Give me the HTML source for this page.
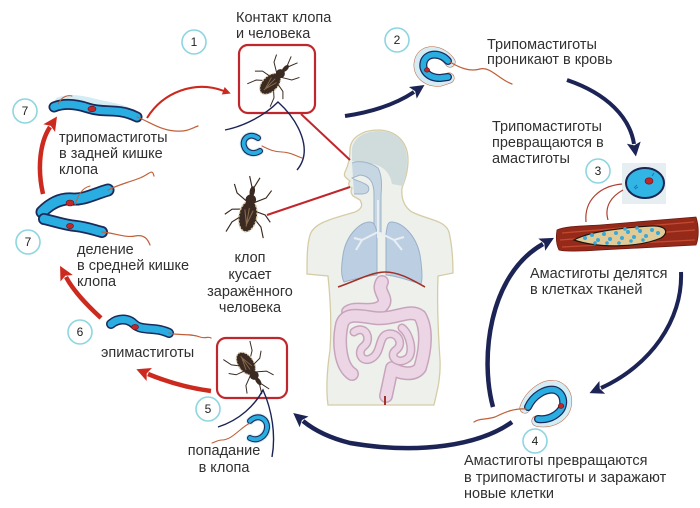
<!DOCTYPE html>
<html><head><meta charset="utf-8">
<style>
html,body{margin:0;padding:0;background:#fff;}
svg{display:block;}
text{font-family:"Liberation Sans","Noto Sans CJK SC",sans-serif;font-size:14.5px;fill:#303030;}
.n{font-size:12px;fill:#222;text-anchor:middle;}
</style></head>
<body>
<svg width="700" height="508" viewBox="0 0 700 508" xmlns="http://www.w3.org/2000/svg">
<defs>
<marker id="rh" viewBox="0 0 10 10" refX="1" refY="5" markerWidth="15" markerHeight="14" markerUnits="userSpaceOnUse" orient="auto"><path d="M0,0 L10,5 L0,10 L2,5 Z" fill="#cc2a1e"/></marker>
<marker id="rs" viewBox="0 0 10 10" refX="1" refY="5" markerWidth="10" markerHeight="8" markerUnits="userSpaceOnUse" orient="auto"><path d="M0,0 L10,5 L0,10 Z" fill="#cc2a1e"/></marker>
<marker id="nh" viewBox="0 0 10 10" refX="1" refY="5" markerWidth="15" markerHeight="14" markerUnits="userSpaceOnUse" orient="auto"><path d="M0,0 L10,5 L0,10 L2,5 Z" fill="#1c2456"/></marker>
</defs>

<!-- HUMAN BODY -->
<path d="M378,130 C396,130 408,142 408,160 C408,172 405,180 402,188 C401,198 404,207 412,212 C428,220 445,220 449,232 C452,245 453,260 453,273 L438,276 C437,300 438,330 440,360 C441,380 436,395 434,405 L328,405 C326,390 327,370 330,350 C332,320 330,295 328,276 L307,274 C307,258 307,245 310,235 C314,222 335,218 355,212 C362,209 363,205 360,200 L353,196 C350,192 351,190 352,188 C348,186 348,183 350,181 C346,178 343,176 345,172 C347,168 350,160 350,150 C350,138 362,130 378,130 Z" fill="#eef0ec" stroke="#d6cca4" stroke-width="1.3"/>
<path d="M352,148 C355,136 366,131 380,131 C396,131 407,142 407,160 C407,172 405,180 403,186 L392,184 C390,172 383,165 368,163 L352,161 Z" fill="#d0dbdb"/>
<!-- airways -->
<path d="M352,163 C358,160 370,162 378,168 C382,175 382,185 381,195 L381,232 L374,232 L374,195 C374,182 370,176 360,175 L352,178 C356,181 364,182 368,186 C370,190 368,194 362,194 L354,194" fill="#c6d6e2" stroke="#9fb4c8" stroke-width="1"/>
<!-- lungs -->
<path d="M370,222 C360,222 346,235 343,255 C341,268 341,276 344,282 C355,279 365,276 377,275 L377,234 C376,226 374,222 370,222 Z" fill="#bccfe2" stroke="#9ab0c8" stroke-width="1"/>
<path d="M391,222 C402,222 416,235 420,255 C422,268 423,278 421,284 C410,281 398,276 386,275 L386,234 C387,226 388,222 391,222 Z" fill="#bccfe2" stroke="#9ab0c8" stroke-width="1"/>
<path d="M378,200 L378,238 M378,232 L362,240 L356,250 M362,240 L354,238 M378,232 L394,240 L402,250 M394,240 L404,237" fill="none" stroke="#e8eef2" stroke-width="2"/>
<!-- digestive -->
<g fill="none" stroke-linecap="round" stroke-linejoin="round">
<path d="M382,282 C376,292 390,298 382,306 C372,314 356,306 348,312" stroke="#c8a4bc" stroke-width="14"/>
<path d="M382,282 C376,292 390,298 382,306 C372,314 356,306 348,312" stroke="#ecd6e6" stroke-width="11"/>
<path d="M352,374 C340,366 338,342 342,324 C346,312 360,316 375,318 C395,320 410,308 420,316 C428,330 425,352 420,368 C414,376 400,374 392,368 L386,396" stroke="#c8a4bc" stroke-width="14"/>
<path d="M352,374 C340,366 338,342 342,324 C346,312 360,316 375,318 C395,320 410,308 420,316 C428,330 425,352 420,368 C414,376 400,374 392,368 L386,396" stroke="#ecd6e6" stroke-width="11"/>
<path d="M354,332 C366,324 372,340 364,346 C356,352 362,364 372,358 C382,352 378,336 388,334 C398,332 404,344 396,350 C388,356 398,366 408,358 C414,352 410,334 402,328" stroke="#c8a4bc" stroke-width="9"/>
<path d="M354,332 C366,324 372,340 364,346 C356,352 362,364 372,358 C382,352 378,336 388,334 C398,332 404,344 396,350 C388,356 398,366 408,358 C414,352 410,334 402,328" stroke="#ecd6e6" stroke-width="6"/>
</g>
<path d="M338,287 C358,280 372,272 385,272 C400,272 414,281 425,287" fill="none" stroke="#a0322a" stroke-width="1.6"/>
<path d="M385,396 L385,405" stroke="#a0322a" stroke-width="2"/>

<!-- red connector lines -->
<line x1="301" y1="114" x2="350" y2="160" stroke="#c0272d" stroke-width="2"/>
<line x1="267" y1="215" x2="350" y2="187" stroke="#c0272d" stroke-width="2"/>

<!-- BOXES -->
<rect x="239" y="45" width="76" height="68" rx="9" fill="none" stroke="#c0272d" stroke-width="2.2"/>
<rect x="217" y="338" width="70" height="60" rx="9" fill="none" stroke="#c0272d" stroke-width="2.2"/>

<!-- BUGS -->
<g transform="translate(274,80) rotate(45) scale(0.9)">
 <g stroke="#3a2a20" stroke-width="1.1" fill="none">
  <path d="M-4,-8 L-14,-14 L-18,-22 M4,-8 L14,-14 L18,-22 M-5,0 L-16,2 L-22,8 M5,0 L16,2 L22,8 M-5,6 L-14,14 L-18,24 M5,6 L14,14 L18,24 M-1,-22 L-5,-32 M1,-22 L5,-32"/>
 </g>
 <ellipse cx="0" cy="6" rx="8.5" ry="14" fill="#3b2a22" stroke="#d8c8a8" stroke-width="1.4" stroke-dasharray="2 1.5"/>
 <path d="M-4,0 L0,14 L4,0 M0,-2 L0,16" stroke="#8a6a4a" stroke-width="1" fill="none"/>
 <ellipse cx="0" cy="-10" rx="5" ry="5" fill="#3b2a22"/>
 <ellipse cx="0" cy="-18" rx="2.5" ry="5" fill="#3b2a22"/>
</g>
<g transform="translate(249,210) rotate(10) scale(1.05)">
 <g stroke="#3a2a20" stroke-width="1.1" fill="none">
  <path d="M-4,-8 L-14,-14 L-18,-22 M4,-8 L14,-14 L18,-22 M-5,0 L-16,2 L-22,8 M5,0 L16,2 L22,8 M-5,6 L-14,14 L-18,24 M5,6 L14,14 L18,24 M-1,-22 L-5,-32 M1,-22 L5,-32"/>
 </g>
 <ellipse cx="0" cy="6" rx="8.5" ry="15" fill="#3b2a22" stroke="#d8c8a8" stroke-width="1.4" stroke-dasharray="2 1.5"/>
 <path d="M-4,0 L0,14 L4,0 M0,-2 L0,16" stroke="#8a6a4a" stroke-width="1" fill="none"/>
 <ellipse cx="0" cy="-10" rx="5" ry="5" fill="#3b2a22"/>
 <ellipse cx="0" cy="-18" rx="2.5" ry="5" fill="#3b2a22"/>
</g>
<g transform="translate(249,368) rotate(145) scale(0.9)">
 <g stroke="#3a2a20" stroke-width="1.1" fill="none">
  <path d="M-4,-8 L-14,-14 L-18,-22 M4,-8 L14,-14 L18,-22 M-5,0 L-16,2 L-22,8 M5,0 L16,2 L22,8 M-5,6 L-14,14 L-18,24 M5,6 L14,14 L18,24 M-1,-22 L-5,-32 M1,-22 L5,-32"/>
 </g>
 <ellipse cx="0" cy="6" rx="8.5" ry="14" fill="#3b2a22" stroke="#d8c8a8" stroke-width="1.4" stroke-dasharray="2 1.5"/>
 <path d="M-4,0 L0,14 L4,0 M0,-2 L0,16" stroke="#8a6a4a" stroke-width="1" fill="none"/>
 <ellipse cx="0" cy="-10" rx="5" ry="5" fill="#3b2a22"/>
 <ellipse cx="0" cy="-18" rx="2.5" ry="5" fill="#3b2a22"/>
</g>

<!-- thin navy contact lines -->
<path d="M225,130 C245,126 265,115 278,102 C298,120 314,150 297,170" fill="none" stroke="#1c2456" stroke-width="1.4"/>
<path d="M218,427 C240,420 255,405 263,390 C272,410 276,435 272,457" fill="none" stroke="#1c2456" stroke-width="1.4"/>

<!-- ORGANISMS -->
<g fill="none" stroke-linecap="round" stroke-linejoin="round">
 <!-- A top-left trypomastigote -->
 <path d="M58,100 C72,95 86,99 98,102 C112,105 126,107 136,114" stroke="#d4ecf3" stroke-width="5"/>
 <path d="M54,107 C64,103 76,104 88,108 C100,112 112,110 122,112 C128,113 133,115 137,117" stroke="#1b2a5a" stroke-width="11"/>
 <path d="M54,107 C64,103 76,104 88,108 C100,112 112,110 122,112 C128,113 133,115 137,117" stroke="#2aaee2" stroke-width="7.5"/>
 <path d="M137,117 C150,122 160,130 175,131 C188,132 192,128 198,126" stroke="#c0603a" stroke-width="1.2"/>
 <path d="M58,104 C62,96 68,95 72,96" stroke="#c0603a" stroke-width="1"/>
 <!-- B dividing -->
 <path d="M42,212 C50,204 60,198 72,199 C84,200 94,194 108,190" stroke="#1b2a5a" stroke-width="13"/>
 <path d="M42,212 C50,204 60,198 72,199 C84,200 94,194 108,190" stroke="#2aaee2" stroke-width="9.5"/>
 <path d="M44,219 C54,221 64,225 76,226 C86,227 94,230 102,232" stroke="#1b2a5a" stroke-width="12"/>
 <path d="M44,219 C54,221 64,225 76,226 C86,227 94,230 102,232" stroke="#2aaee2" stroke-width="8.5"/>
 <path d="M108,190 C120,184 130,182 140,178 C150,174 152,168 154,176" stroke="#c0603a" stroke-width="1.2"/>
 <path d="M102,232 C115,233 125,238 135,236 C145,234 148,240 150,245" stroke="#c0603a" stroke-width="1.2"/>
 <path d="M75,205 C78,195 82,188 90,186" stroke="#c0603a" stroke-width="1"/>
 <!-- C epimastigote -->
 <path d="M111,324 C118,318 128,318 134,324 C140,330 150,328 160,330 C164,331 167,332 169,333" stroke="#1b2a5a" stroke-width="10"/>
 <path d="M111,324 C118,318 128,318 134,324 C140,330 150,328 160,330 C164,331 167,332 169,333" stroke="#2aaee2" stroke-width="7"/>
 <path d="M169,333 C180,336 190,333 200,337 C205,339 208,336 211,338" stroke="#c0603a" stroke-width="1.2"/>
 <!-- D trypomastigote 2 -->
 <path d="M450,62 C442,50 424,48 420,60 C416,72 426,82 440,81 L449,78" stroke="#c0603a" stroke-width="11"/>
 <path d="M450,62 C442,50 424,48 420,60 C416,72 426,82 440,81 L449,78" stroke="#d4ecf3" stroke-width="10"/>
 <path d="M448,61 C441,53 428,52 424,61 C421,70 428,78 440,78 L448,77" stroke="#1b2a5a" stroke-width="8"/>
 <path d="M448,61 C441,53 428,52 424,61 C421,70 428,78 440,78 L448,77" stroke="#2aaee2" stroke-width="5.5"/>
 <path d="M450,62 C460,68 470,72 480,69 C490,66 500,80 512,84" stroke="#c0603a" stroke-width="1.2"/>
 <!-- E trypomastigote 4 -->
 <path d="M525,408 C530,394 545,383 556,386 C568,390 570,406 561,415 C555,421 545,423 537,421" stroke="#c0603a" stroke-width="11"/>
 <path d="M525,408 C530,394 545,383 556,386 C568,390 570,406 561,415 C555,421 545,423 537,421" stroke="#d4ecf3" stroke-width="10"/>
 <path d="M528,407 C533,396 545,388 555,390 C564,393 566,405 559,412 C553,418 545,420 538,419" stroke="#1b2a5a" stroke-width="8"/>
 <path d="M528,407 C533,396 545,388 555,390 C564,393 566,405 559,412 C553,418 545,420 538,419" stroke="#2aaee2" stroke-width="5.5"/>
 <path d="M526,409 C515,408 505,412 495,417 C485,420 480,418 474,422" stroke="#c0603a" stroke-width="1.2"/>
 <!-- F small near bug1 -->
 <path d="M258,138 C249,132 242,139 244,146 C246,153 254,155 260,151" stroke="#d4ecf3" stroke-width="8"/>
 <path d="M258,138 C249,132 242,139 244,146 C246,153 254,155 260,151" stroke="#1b2a5a" stroke-width="6"/>
 <path d="M258,138 C249,132 242,139 244,146 C246,153 254,155 260,151" stroke="#2aaee2" stroke-width="3.8"/>
 <path d="M262,146 C270,150 275,152 282,152 C290,152 296,156 302,158" stroke="#c0603a" stroke-width="1.1"/>
 <!-- G small near bug5 -->
 <path d="M250,421 C258,413 268,419 267,428 C266,436 258,442 250,438" stroke="#d4ecf3" stroke-width="8"/>
 <path d="M250,421 C258,413 268,419 267,428 C266,436 258,442 250,438" stroke="#1b2a5a" stroke-width="6"/>
 <path d="M250,421 C258,413 268,419 267,428 C266,436 258,442 250,438" stroke="#2aaee2" stroke-width="3.8"/>
 <path d="M250,423 C240,428 232,440 222,440 C218,440 215,442 212,443" stroke="#c0603a" stroke-width="1.1"/>
</g>
<!-- nuclei -->
<g fill="#c0272d" stroke="#6a1010" stroke-width="0.6">
 <ellipse cx="92" cy="109" rx="4" ry="2.8"/>
 <ellipse cx="70" cy="203" rx="4" ry="3"/>
 <ellipse cx="70" cy="226" rx="3.5" ry="2.6"/>
 <ellipse cx="135" cy="327" rx="3.5" ry="2.6"/>
 <ellipse cx="427" cy="70" rx="2.6" ry="2.2"/>
 <ellipse cx="561" cy="406" rx="2.8" ry="2.4"/>
</g>

<!-- CELL 3 and TISSUE -->
<rect x="622" y="163" width="44" height="41" fill="#e6eef2"/>
<ellipse cx="645" cy="183" rx="19" ry="15" fill="#31b5e5" stroke="#1a2550" stroke-width="2"/>
<ellipse cx="649" cy="181" rx="4" ry="3.2" fill="#c0272d" stroke="#6a1010" stroke-width="0.6"/>
<path d="M634,188 l3,-3 m-2,4 l3,-2 M652,176 l2,-3" stroke="#2470b0" stroke-width="1"/>
<path d="M622,184 C600,186 584,200 586,222 M623,190 C612,196 604,206 608,220" fill="none" stroke="#b04030" stroke-width="1.2"/>
<path d="M557,230 C565,226 585,226 600,225 L696,217 C699,226 699,238 696,245 L600,250 C585,251 566,252 559,250 C556,244 556,236 557,230 Z" fill="#962a1a" stroke="#6a1a10" stroke-width="0.8"/>
<path d="M562,233 L694,222 M560,240 L695,230 M562,247 L695,240" stroke="#c24a30" stroke-width="1.3" fill="none"/>
<path d="M574,240 C588,232 620,228 650,226 C666,225 670,232 661,238 C640,247 600,249 574,240 Z" fill="#e0cc98" stroke="#1f150c" stroke-width="1.2"/>
<g fill="#3aa8d8">
 <circle cx="585" cy="238" r="2"/><circle cx="592" cy="235" r="2"/><circle cx="598" cy="240" r="2"/><circle cx="604" cy="234" r="2"/><circle cx="610" cy="239" r="2"/><circle cx="616" cy="233" r="2"/><circle cx="622" cy="238" r="2"/><circle cx="628" cy="232" r="2"/><circle cx="634" cy="237" r="2"/><circle cx="640" cy="231" r="2"/><circle cx="646" cy="236" r="2"/><circle cx="652" cy="230" r="2"/><circle cx="658" cy="233" r="2"/><circle cx="607" cy="243" r="1.8"/><circle cx="619" cy="243" r="1.8"/><circle cx="631" cy="241" r="1.8"/><circle cx="643" cy="240" r="1.8"/><circle cx="595" cy="243" r="1.8"/><circle cx="625" cy="229" r="1.8"/><circle cx="637" cy="228" r="1.8"/>
</g>

<!-- ARROWS red -->
<path d="M43,194 C37,168 40,142 50,127" fill="none" stroke="#cc2a1e" stroke-width="4.5" marker-end="url(#rh)"/>
<path d="M101,318 C88,306 74,292 66,277" fill="none" stroke="#cc2a1e" stroke-width="4.5" marker-end="url(#rh)"/>
<path d="M211,391 C188,388 165,381 148,374" fill="none" stroke="#cc2a1e" stroke-width="4.5" marker-end="url(#rh)"/>
<path d="M147,118 C163,92 195,80 224,91" fill="none" stroke="#cc2a1e" stroke-width="2" marker-end="url(#rs)"/>
<!-- ARROWS navy -->
<path d="M345,116 C372,112 396,104 414,92" fill="none" stroke="#1c2456" stroke-width="4" marker-end="url(#nh)"/>
<path d="M567,80 C608,94 630,118 634,144" fill="none" stroke="#1c2456" stroke-width="4" marker-end="url(#nh)"/>
<path d="M681,272 C683,320 650,366 601,388" fill="none" stroke="#1c2456" stroke-width="4" marker-end="url(#nh)"/>
<path d="M493,407 C480,360 488,275 543,244" fill="none" stroke="#1c2456" stroke-width="4.5" marker-end="url(#nh)"/>
<path d="M512,422 C480,445 420,455 350,443 C330,438 314,430 303,421" fill="none" stroke="#1c2456" stroke-width="4.5" marker-end="url(#nh)"/>

<!-- NUMBER CIRCLES -->
<g fill="#fff" stroke="#8dd6e0" stroke-width="1.6">
 <circle cx="194" cy="42" r="12"/><circle cx="397" cy="40" r="12"/><circle cx="598" cy="171" r="12"/><circle cx="535" cy="441" r="12"/><circle cx="208" cy="409" r="12"/><circle cx="80" cy="332" r="12"/><circle cx="25" cy="111" r="12"/><circle cx="28" cy="242" r="12"/>
</g>
<text class="n" x="194" y="46">1</text>
<text class="n" x="397" y="44">2</text>
<text class="n" x="598" y="175">3</text>
<text class="n" x="535" y="445">4</text>
<text class="n" x="208" y="413">5</text>
<text class="n" x="80" y="336">6</text>
<text class="n" x="25" y="115">7</text>
<text class="n" x="28" y="246">7</text>

<!-- LABELS -->
<text x="236" y="22">Контакт клопа</text>
<text x="236" y="38">и человека</text>
<text x="487" y="49">Трипомастиготы</text>
<text x="487" y="64">проникают в кровь</text>
<text x="492" y="131">Трипомастиготы</text>
<text x="492" y="147">превращаются в</text>
<text x="492" y="163">амастиготы</text>
<text x="59" y="142">трипомастиготы</text>
<text x="59" y="158">в задней кишке</text>
<text x="59" y="174">клопа</text>
<text x="77" y="254">деление</text>
<text x="77" y="270">в средней кишке</text>
<text x="77" y="286">клопа</text>
<g text-anchor="middle">
<text x="250" y="262">клоп</text>
<text x="250" y="279">кусает</text>
<text x="250" y="296">заражённого</text>
<text x="250" y="312">человека</text>
</g>
<text x="101" y="357">эпимастиготы</text>
<text x="224" y="455" text-anchor="middle">попадание</text>
<text x="224" y="472" text-anchor="middle">в клопа</text>
<text x="530" y="278">Амастиготы делятся</text>
<text x="530" y="294">в клетках тканей</text>
<text x="464" y="465">Амастиготы превращаются</text>
<text x="464" y="482">в трипомастиготы и заражают</text>
<text x="464" y="498">новые клетки</text>
</svg>
</body></html>
